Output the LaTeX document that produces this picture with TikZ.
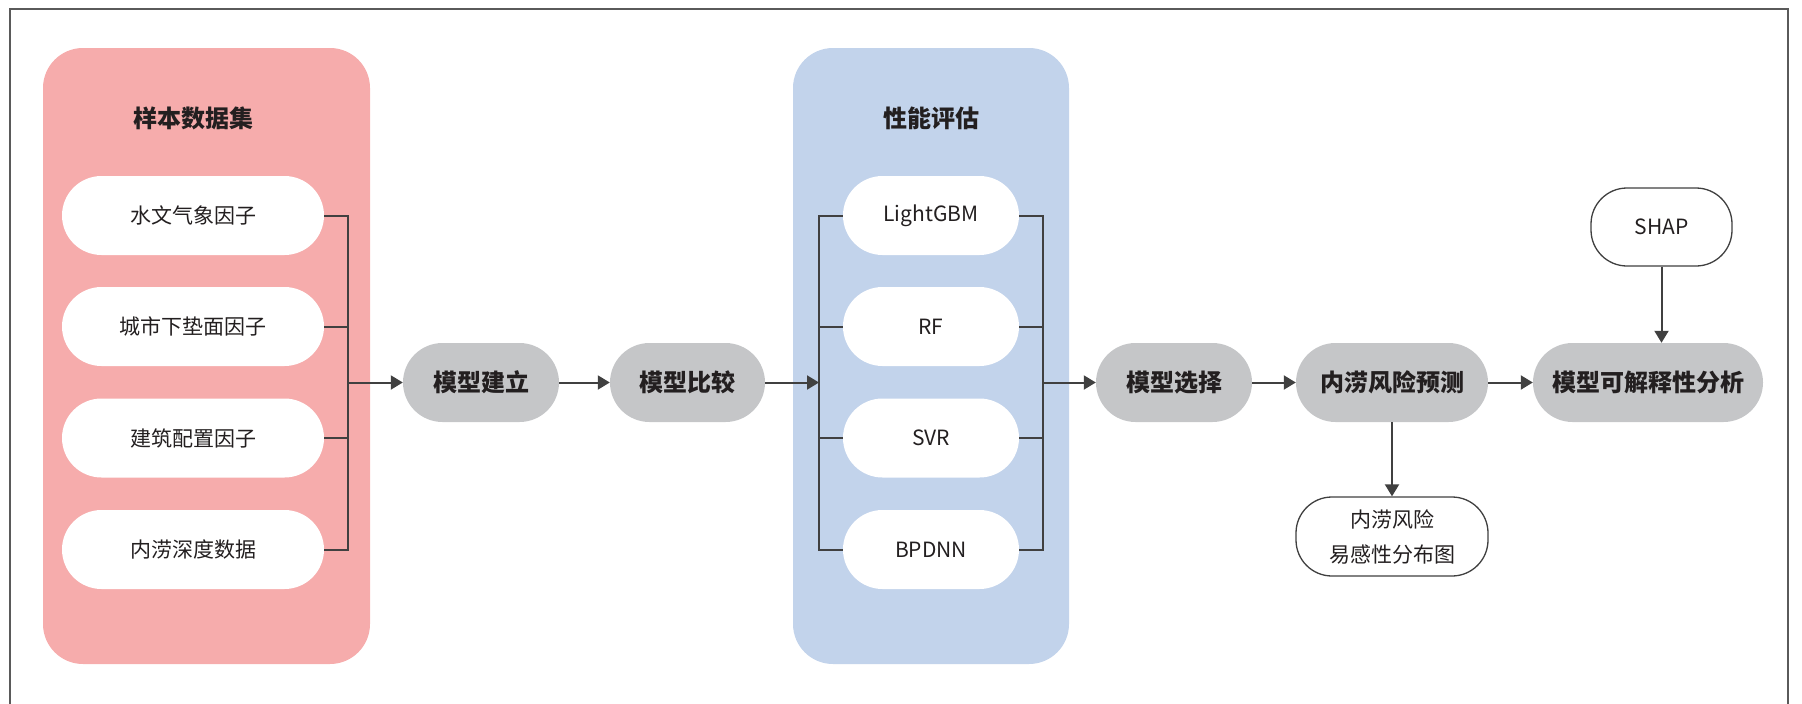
\documentclass[tikz,border=0pt]{standalone}
\usepackage{fontspec}
\setmainfont{Noto Sans CJK SC}
\usetikzlibrary{arrows.meta}
\definecolor{pinkbg}{RGB}{246,172,172}
\definecolor{bluebg}{RGB}{194,211,235}
\definecolor{graybg}{RGB}{197,198,200}
\definecolor{linec}{RGB}{64,64,64}
\definecolor{txtc}{RGB}{35,31,32}
\definecolor{framec}{RGB}{90,90,90}
\tikzset{
  panel/.style={rounded corners=40pt},
  pill/.style={rectangle, rounded corners=39.5pt, minimum height=79pt, inner sep=0pt, text=txtc, font=\fontsize{21}{25}\selectfont},
  whitepill/.style={pill, fill=white},
  graypill/.style={pill, fill=graybg, font=\fontsize{24}{28}\selectfont\bfseries},
  outlinebox/.style={rectangle, rounded corners=36pt, draw=linec, line width=1.3pt, fill=white, inner sep=0pt, text=txtc, align=center, font=\fontsize{21}{35}\selectfont},
  paneltitle/.style={text=txtc, font=\fontsize{24}{28}\selectfont\bfseries},
  conn/.style={draw=linec, line width=2pt},
  arr/.style={conn, -{Triangle[length=12pt,width=14pt]}}
}
\begin{document}
\begin{tikzpicture}[x=1pt,y=-1pt]
\useasboundingbox (0,0) rectangle (1802,704);
\draw[framec, line width=1.2pt] (10,704) -- (10,9) -- (1788,9) -- (1788,704);

% panels
\fill[pinkbg, panel] (43,48) rectangle (370,664);
\fill[bluebg, panel] (793,48) rectangle (1069,664);
\node[paneltitle] (t1) at (193,118) {样本数据集};
\node[paneltitle] (t2) at (931,118) {性能评估};

% left pills
\node[whitepill, minimum width=262pt] (f1) at (193,215.5) {水文气象因子};
\node[whitepill, minimum width=262pt] (f2) at (193,326.5) {城市下垫面因子};
\node[whitepill, minimum width=262pt] (f3) at (193,438) {建筑配置因子};
\node[whitepill, minimum width=262pt] (f4) at (193,549.5) {内涝深度数据};

% model pills
\node[whitepill, minimum width=176pt] (m1) at (931,215.5) {LightGBM};
\node[whitepill, minimum width=176pt] (m2) at (931,326.5) {RF};
\node[whitepill, minimum width=176pt] (m3) at (931,438) {SVR};
\node[whitepill, minimum width=176pt] (m4) at (931,549.5) {BPDNN};

% main flow
\node[graypill, minimum width=156pt] (build) at (481,382.5) {模型建立};
\node[graypill, minimum width=155pt] (comp) at (687.5,382.5) {模型比较};
\node[graypill, minimum width=156pt] (sel) at (1174,382.5) {模型选择};
\node[graypill, minimum width=192pt] (pred) at (1392,382.5) {内涝风险预测};
\node[graypill, minimum width=230pt] (ana) at (1648,382.5) {模型可解释性分析};

\node[outlinebox, minimum width=141pt, minimum height=78pt] (shap) at (1661.5,227) {SHAP};
\node[outlinebox, minimum width=192pt, minimum height=79pt] (map) at (1392,536.5) {内涝风险\\易感性分布图};

% buses
\coordinate (lb) at (348,382.5);
\coordinate (mb) at (819,382.5);
\coordinate (rb) at (1043,382.5);

\draw[conn] (f1.east) -- (f1.east -| lb) -- (f4.east -| lb) -- (f4.east);
\draw[conn] (f2.east) -- (f2.east -| lb);
\draw[conn] (f3.east) -- (f3.east -| lb);
\draw[arr] (lb) -- (build.west);

\draw[conn] (m1.west) -- (m1.west -| mb) -- (m4.west -| mb) -- (m4.west);
\draw[conn] (m2.west) -- (m2.west -| mb);
\draw[conn] (m3.west) -- (m3.west -| mb);
\draw[conn] (m1.east) -- (m1.east -| rb) -- (m4.east -| rb) -- (m4.east);
\draw[conn] (m2.east) -- (m2.east -| rb);
\draw[conn] (m3.east) -- (m3.east -| rb);

\draw[arr] (build.east) -- (comp.west);
\draw[arr] (comp.east) -- (mb);
\draw[arr] (rb) -- (sel.west);
\draw[arr] (sel.east) -- (pred.west);
\draw[arr] (pred.east) -- (ana.west);
\draw[arr] (shap.south) -- (shap.south |- ana.north);
\draw[arr] (pred.south -| map.north) -- (map.north);
\end{tikzpicture}
\end{document}
